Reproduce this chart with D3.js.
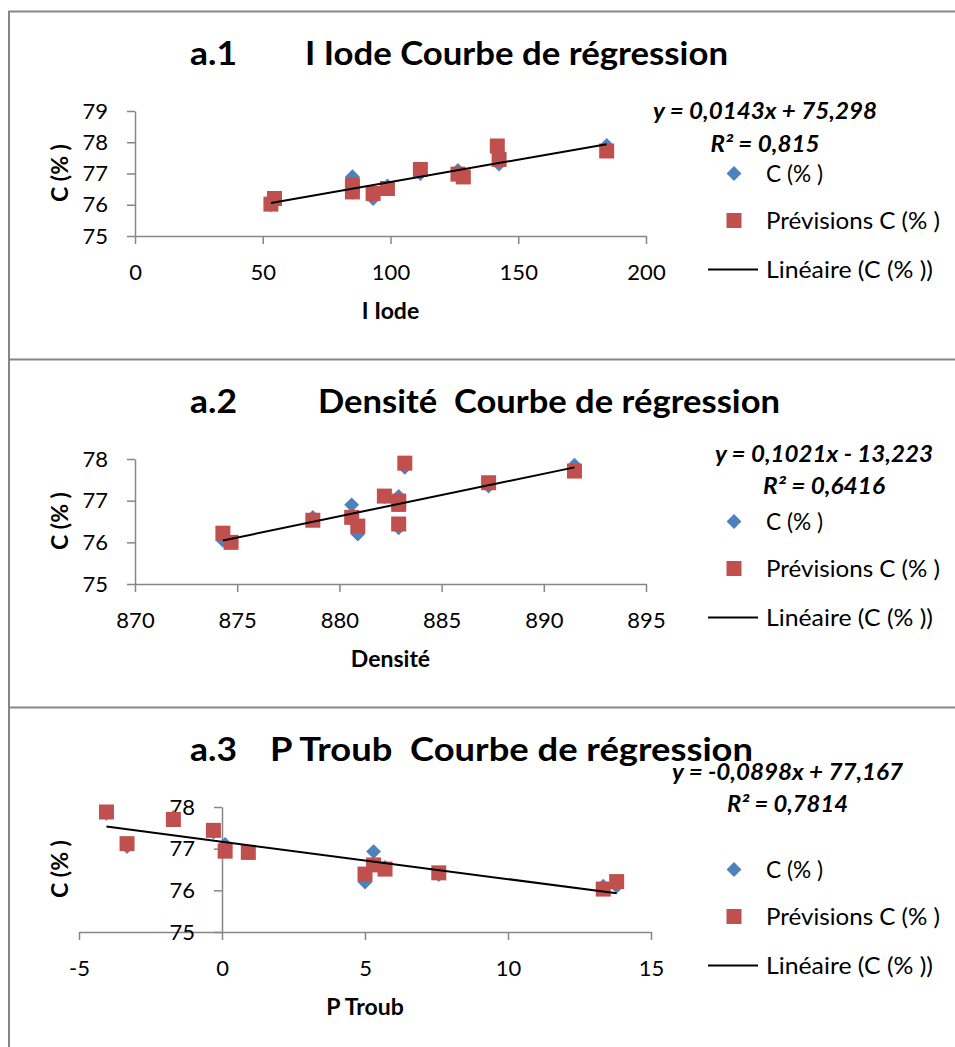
<!DOCTYPE html>
<html>
<head>
<meta charset="utf-8">
<script src="https://cdn.jsdelivr.net/npm/d3@7"></script>
<style>
	body { margin: 0; background: #fff; }
	svg { display: block; }
</style>
</head>
<body>
<svg id="chart" width="955" height="1047"></svg>
<script>
// ── data ────────────────────────────────────────────────────────────
const iodeX    = [53.2, 54.6, 85.1, 85.1, 93.2, 98.8, 111.7, 126.4, 128.5, 141.8, 142.5, 184.6];
const iodeC    = [76.0, 76.2, 76.9, 76.4, 76.2, 76.6, 77.0, 77.1, 76.9, 77.8, 77.3, 77.9];
const iodePrev = [76.02, 76.2, 76.63, 76.41, 76.36, 76.52, 77.13, 76.98, 76.89, 77.88, 77.45, 77.72];

const densX    = [874.3, 874.7, 878.7, 880.6, 880.9, 882.2, 882.9, 882.9, 882.9, 883.2, 887.3, 891.5];
const densC    = [76.05, 76.0, 76.6, 76.9, 76.2, 77.1, 77.1, 76.9, 76.35, 77.8, 77.35, 77.85];
const densPrev = [76.22, 76.0, 76.53, 76.6, 76.39, 77.11, 76.99, 76.91, 76.44, 77.9, 77.43, 77.71];

const troubX    = [-4.04, -3.32, -1.7, -0.3, 0.11, 0.92, 5.0, 5.3, 5.7, 7.58, 13.33, 13.8];
const troubC    = [77.85, 77.05, 77.75, 77.4, 77.1, 76.9, 76.2, 76.93, 76.55, 76.38, 76.1, 76.1];
const troubPrev = [77.88, 77.12, 77.7, 77.44, 76.94, 76.91, 76.39, 76.61, 76.51, 76.42, 76.03, 76.21];

const iodeTicks  = [0, 50, 100, 150, 200];
const densTicks  = [870, 875, 880, 885, 890, 895];
const troubTicks = [-5, 0, 5, 10, 15];
const iodeYTicks  = [75, 76, 77, 78, 79];
const densYTicks  = [75, 76, 77, 78];
const troubYTicks = [75, 76, 77, 78];

const trendSlope     = [0.0143, 0.1021, -0.0898];
const trendIntercept = [75.298, -13.223, 77.167];
const equations = ['y = 0,0143x + 75,298', 'y = 0,1021x - 13,223', 'y = -0,0898x + 77,167'];
const r2Labels  = ['R² = 0,815', 'R² = 0,6416', 'R² = 0,7814'];

const panelIds    = ['a.1', 'a.2', 'a.3'];
const panelTitles = ['I Iode Courbe de régression', 'Densité  Courbe de régression', 'P Troub  Courbe de régression'];
const xTitles     = ['I Iode', 'Densité', 'P Troub'];
const yTitle      = 'C (% )';
const legendLabels = ['C (% )', 'Prévisions C (% )', 'Linéaire (C (% ))'];

// ── layout / style ───────────────────────────────────────────────────
const FONT = 'Lato, "Open Sans", sans-serif';
const GREY = '#868686';
const BLUE = '#4F81BD';
const RED = '#C0504D';
const PANEL_TOP = 11.5;
const PANEL_STEP = 348;
const PLOT_TOP = 111;
const PLOT_BOTTOM = 236;
const SQUARE = 15;
const DIAMOND = 10.5;

// per-panel placement of things Excel put by hand
const LAYOUT = [
	{ xRange: [135, 646], titleX: 305, titleW: 423, eqX: 765, eqY: 119, r2Y: 152, eqW: 224, r2W: 109 },
	{ xRange: [135, 646], titleX: 318, titleW: 462, eqX: 824, eqY: 114, r2Y: 146, eqW: 218, r2W: 122 },
	{ xRange: [79, 651], titleX: 270, titleW: 483, eqX: 787.5, eqY: 84, r2Y: 116, eqW: 231, r2W: 121 },
];

const xs = [iodeX, densX, troubX];
const cs = [iodeC, densC, troubC];
const prevs = [iodePrev, densPrev, troubPrev];
const xTickSets = [iodeTicks, densTicks, troubTicks];
const yTickSets = [iodeYTicks, densYTicks, troubYTicks];

// Excel writes plain integers with an ASCII hyphen for negatives
const tickFmt = (d) => String(d);

const svg = d3.select('#chart');

// outer frame (runs off the right and bottom of the picture) + dividers
svg.append('path')
	.attr('d', `M9,1100 V${PANEL_TOP} H970`)
	.attr('fill', 'none').attr('stroke', GREY).attr('stroke-width', 2);
[1, 2].forEach((i) => {
	svg.append('line')
		.attr('x1', 9).attr('x2', 970)
		.attr('y1', PANEL_TOP + i * PANEL_STEP).attr('y2', PANEL_TOP + i * PANEL_STEP)
		.attr('stroke', GREY).attr('stroke-width', 2);
});

const diamond = d3.symbol().type(d3.symbolSquare).size(DIAMOND * DIAMOND);
const square = d3.symbol().type(d3.symbolSquare).size(SQUARE * SQUARE);

function drawPanel(i) {
	const lay = LAYOUT[i];
	const g = svg.append('g').attr('transform', `translate(0, ${i * PANEL_STEP})`);
	const xTicks = xTickSets[i];
	const yTicks = yTickSets[i];

	const x = d3.scaleLinear().domain([xTicks[0], xTicks[xTicks.length - 1]]).range(lay.xRange);
	const y = d3.scaleLinear().domain([yTicks[0], yTicks[yTicks.length - 1]]).range([PLOT_BOTTOM, PLOT_TOP]);

	// title: panel id + text
	g.append('text')
		.attr('x', 190).attr('y', 65)
		.attr('font-family', FONT).attr('font-weight', 700).attr('font-size', 33)
		.attr('textLength', 47).attr('lengthAdjust', 'spacingAndGlyphs')
		.text(panelIds[i]);
	g.append('text')
		.attr('x', lay.titleX).attr('y', 65)
		.attr('font-family', FONT).attr('font-weight', 700).attr('font-size', 33)
		.style('white-space', 'pre')
		.attr('textLength', lay.titleW).attr('lengthAdjust', 'spacingAndGlyphs')
		.text(panelTitles[i]);

	// axes — the vertical one crosses at 0 when 0 is on the scale
	const [d0, d1] = x.domain();
	const yAxisX = x(Math.min(Math.max(0, d0), d1));

	const xAxis = g.append('g')
		.attr('transform', `translate(0, ${PLOT_BOTTOM})`)
		.call(d3.axisBottom(x).tickValues(xTicks).tickFormat(tickFmt)
			.tickSize(8).tickSizeOuter(0).tickPadding(20));
	const yAxis = g.append('g')
		.attr('transform', `translate(${yAxisX}, 0)`)
		.call(d3.axisLeft(y).tickValues(yTicks).tickFormat(tickFmt)
			.tickSize(8).tickSizeOuter(0).tickPadding(19));

	[xAxis, yAxis].forEach((ax) => {
		ax.select('.domain').attr('stroke', GREY).attr('stroke-width', 1.5);
		ax.selectAll('.tick line').attr('stroke', GREY).attr('stroke-width', 1.5);
		ax.selectAll('.tick text')
			.attr('fill', '#000').attr('font-family', FONT).attr('font-size', 22);
	});

	// axis titles
	g.append('text')
		.attr('x', (lay.xRange[0] + lay.xRange[1]) / 2).attr('y', 319)
		.attr('text-anchor', 'middle')
		.attr('font-family', FONT).attr('font-weight', 700).attr('font-size', 23)
		.text(xTitles[i]);
	g.append('text')
		.attr('transform', 'translate(68, 173) rotate(-90)')
		.attr('text-anchor', 'middle')
		.attr('font-family', FONT).attr('font-weight', 700).attr('font-size', 23)
		.text(yTitle);

	// series: observed (diamonds), predicted (squares), then trend line on top
	const xv = xs[i];
	g.append('g').selectAll('path')
		.data(cs[i])
		.join('path')
		.attr('d', diamond)
		.attr('transform', (d, k) => `translate(${x(xv[k])}, ${y(d)}) rotate(45)`)
		.attr('fill', BLUE);

	g.append('g').selectAll('path')
		.data(prevs[i])
		.join('path')
		.attr('d', square)
		.attr('transform', (d, k) => `translate(${x(xv[k])}, ${y(d)})`)
		.attr('fill', RED);

	const ends = d3.extent(xv);
	const line = d3.line()
		.x((d) => x(d))
		.y((d) => y(trendSlope[i] * d + trendIntercept[i]));
	g.append('path')
		.datum(ends)
		.attr('d', line)
		.attr('fill', 'none').attr('stroke', '#000').attr('stroke-width', 2);

	// equation + R²
	g.append('text')
		.attr('x', lay.eqX).attr('y', lay.eqY).attr('text-anchor', 'middle')
		.attr('font-family', FONT).attr('font-weight', 700).attr('font-style', 'italic').attr('font-size', 22)
		.attr('textLength', lay.eqW).attr('lengthAdjust', 'spacingAndGlyphs')
		.text(equations[i]);
	g.append('text')
		.attr('x', lay.eqX).attr('y', lay.r2Y).attr('text-anchor', 'middle')
		.attr('font-family', FONT).attr('font-weight', 700).attr('font-style', 'italic').attr('font-size', 22)
		.attr('textLength', lay.r2W).attr('lengthAdjust', 'spacingAndGlyphs')
		.text(r2Labels[i]);

	// legend
	const legendY = [173.5, 220.5, 269.5];
	const legendW = [57, 174, 167];
	g.append('path').attr('d', diamond)
		.attr('transform', `translate(734, ${legendY[0]}) rotate(45)`).attr('fill', BLUE);
	g.append('path').attr('d', square)
		.attr('transform', `translate(734, ${legendY[1]})`).attr('fill', RED);
	g.append('line')
		.attr('x1', 708).attr('x2', 758).attr('y1', legendY[2]).attr('y2', legendY[2])
		.attr('stroke', '#000').attr('stroke-width', 2);
	legendLabels.forEach((lbl, k) => {
		g.append('text')
			.attr('x', 766).attr('y', legendY[k] + 8)
			.attr('font-family', FONT).attr('font-size', 23)
			.attr('textLength', legendW[k]).attr('lengthAdjust', 'spacingAndGlyphs')
			.text(lbl);
	});
}

[0, 1, 2].forEach(drawPanel);
</script>
</body>
</html>
